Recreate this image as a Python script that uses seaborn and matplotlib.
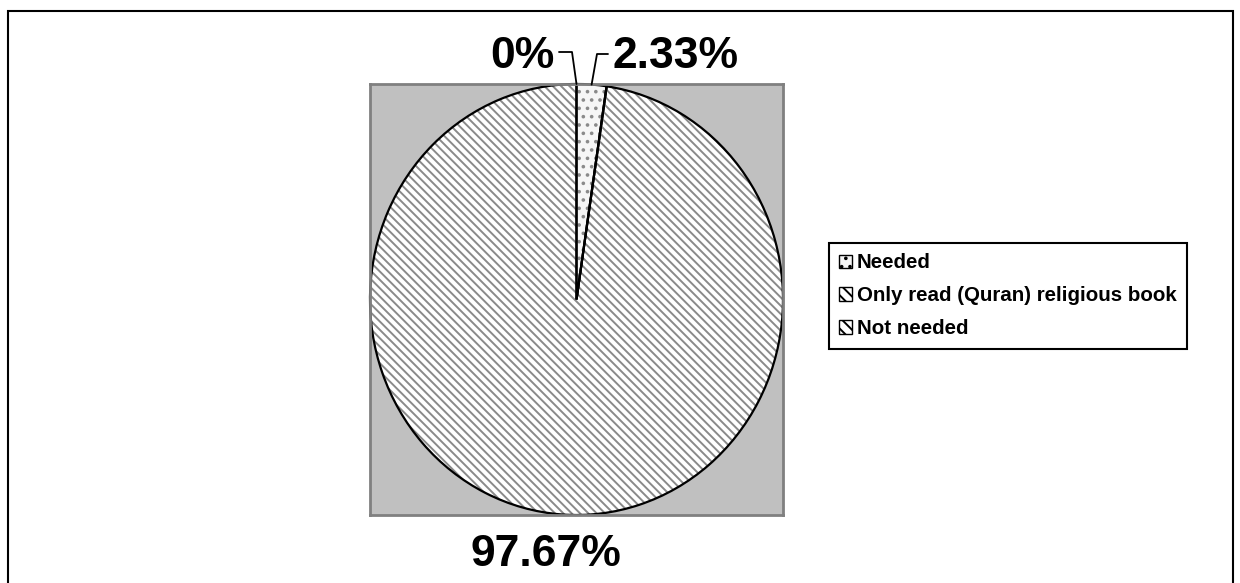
import matplotlib
matplotlib.use("Agg")
import matplotlib.pyplot as plt
from matplotlib.patches import Patch, Rectangle
import seaborn as sns
import numpy as np

categories = ["Needed", "Only read (Quran) religious book", "Not needed"]
values = [2.33, 0.0, 97.67]
value_labels = ["2.33%", "0%", "97.67%"]
hatches = ["..", "\\\\\\\\", "\\\\\\\\"]
facecolors = ["#f6f6f6", "white", "white"]

sns.set_theme(style="white")
plt.rcParams["font.family"] = ["Liberation Sans", "DejaVu Sans"]
plt.rcParams["text.color"] = "black"
plt.rcParams["hatch.linewidth"] = 1.4

W, H = 1240, 583
fig = plt.figure(figsize=(W / 100, H / 100), dpi=100)
fig.patch.set_facecolor("white")

# plot area in pixels
px0, py0, px1, py1 = 370, 84, 783, 515
ax = fig.add_axes([px0 / W, 1 - py1 / H, (px1 - px0) / W, (py1 - py0) / H])
ax.set_facecolor("#c0c0c0")

wedges, _ = ax.pie(values, startangle=90, counterclock=False, radius=1,
                   colors=facecolors,
                   wedgeprops=dict(edgecolor="#8a8a8a", linewidth=0))
for w, h in zip(wedges, hatches):
    w.set_hatch(h)
ax.pie(values, startangle=90, counterclock=False, radius=1,
       wedgeprops=dict(fill=False, edgecolor="black", linewidth=1.6))
ax.set_aspect("auto")
ax.set_xlim(-1, 1)
ax.set_ylim(-1, 1)
ax.set_frame_on(True)
for s in ax.spines.values():
    s.set_visible(True)
    s.set_color("#808080")
    s.set_linewidth(2)
ax.set_xticks([])
ax.set_yticks([])

# data labels with leader lines
tr = ax.transData
cum = np.concatenate([[0], np.cumsum(values)]) / 100.0
mid_needed = np.deg2rad(90 - 360 * (cum[0] + cum[1]) / 2)
start_ang = np.deg2rad(90)

def leader(angle, elbow_px, end_px):
    p = tr.transform((np.cos(angle), np.sin(angle)))
    xs = [end_px[0], elbow_px[0], p[0]]
    ys = [end_px[1], elbow_px[1], p[1]]
    xs = [x / W for x in xs]
    ys = [y / H for y in ys]
    fig.add_artist(plt.Line2D(xs, ys, transform=fig.transFigure, color="black", lw=1.3))

leader(mid_needed, (597, H - 54), (608, H - 54))
leader(start_ang, (572, H - 52), (559, H - 52))

lab_font = dict(fontsize=32, fontweight="bold", color="black")
fig.text(676 / W, 1 - 56 / H, value_labels[0], ha="center", va="center", **lab_font)
fig.text(522 / W, 1 - 56 / H, value_labels[1], ha="center", va="center", **lab_font)
fig.text(546 / W, 1 - 555 / H, value_labels[2], ha="center", va="center", **lab_font)

handles = [Patch(facecolor=fc, edgecolor="black", hatch=h, linewidth=1)
           for fc, h in zip(facecolors, ["..", "\\\\\\", "\\\\\\"])]
leg = fig.legend(handles, categories, loc="upper left",
                 bbox_to_anchor=(829 / W, 1 - 243 / H), bbox_transform=fig.transFigure,
                 frameon=True, fancybox=False, framealpha=1, edgecolor="black",
                 handlelength=0.6, handleheight=0.6, handletextpad=0.25,
                 labelspacing=0.68, borderpad=0.5, borderaxespad=0,
                 prop=dict(size=14.8, weight="bold"))
leg.get_frame().set_linewidth(1.5)

# outer chart border
fig.add_artist(Rectangle((8 / W, -0.02), (1233 - 8) / W, (H - 11) / H + 0.02,
                         transform=fig.transFigure, fill=False, edgecolor="black", lw=1.5))

fig.savefig("out.png", dpi=100)
